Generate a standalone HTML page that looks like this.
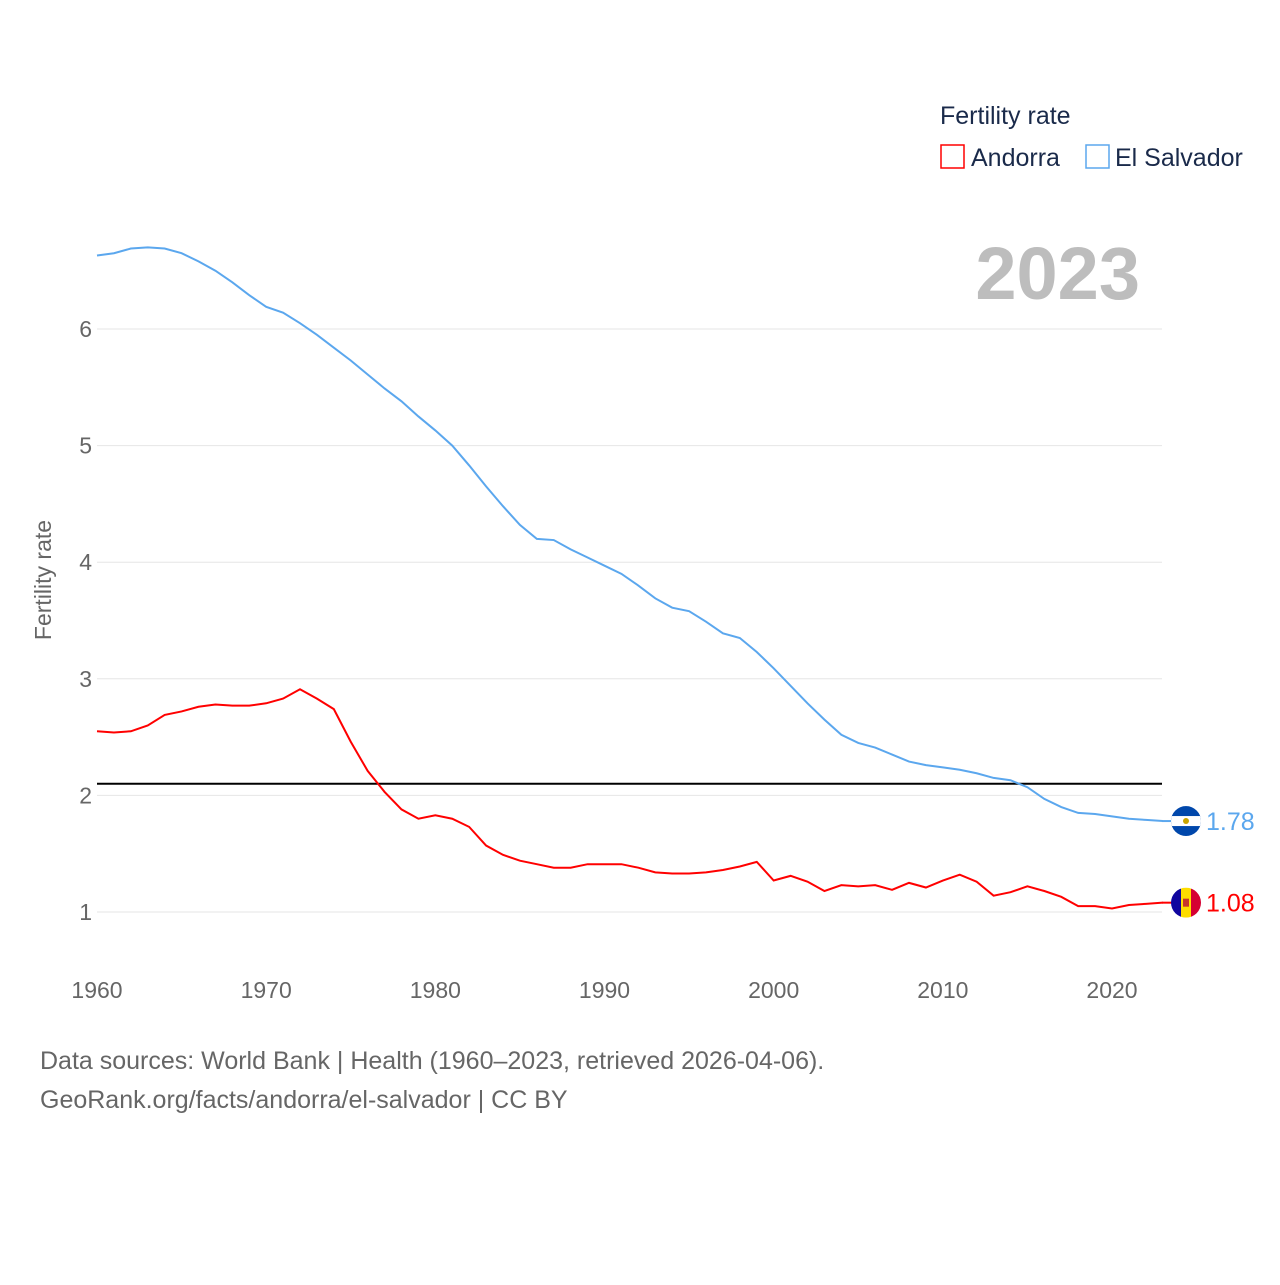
<!DOCTYPE html>
<html><head><meta charset="utf-8"><style>
body{margin:0;background:#fff;font-family:"Liberation Sans",sans-serif;}
svg text{font-family:"Liberation Sans",sans-serif;}
</style></head><body>
<svg id="chart" width="1280" height="1280" xmlns="http://www.w3.org/2000/svg">
<text x="940" y="124" font-size="25" fill="#1a2a4a">Fertility rate</text>
<g><rect x="941" y="145" width="23" height="23" fill="none" stroke="#ff0000" stroke-width="1.5"/><text x="971" y="166" font-size="25" fill="#1a2a4a">Andorra</text></g>
<g><rect x="1086" y="145" width="23" height="23" fill="none" stroke="#5ba7ee" stroke-width="1.5"/><text x="1115" y="166" font-size="25" fill="#1a2a4a">El Salvador</text></g>
<text x="1140" y="299" font-size="74" font-weight="bold" fill="#bdbdbd" text-anchor="end">2023</text>
<text transform="translate(51,580) rotate(-90)" font-size="23" fill="#666" text-anchor="middle">Fertility rate</text>
<g id="grid"></g><g id="xt"></g><g id="lines"></g>
<text x="40" y="1069" font-size="25" fill="#666">Data sources: World Bank | Health (1960–2023, retrieved 2026-04-06).</text>
<text x="40" y="1108" font-size="25" fill="#666">GeoRank.org/facts/andorra/el-salvador | CC BY</text>
</svg>
<script>
const years=[];for(let y=1960;y<=2023;y++)years.push(y);
const yTicks=[1,2,3,4,5,6];
const xTicks=[1960,1970,1980,1990,2000,2010,2020];
const replacementRate=2.1;
const elSalvador=[6.63,6.65,6.69,6.70,6.69,6.65,6.58,6.50,6.40,6.29,6.19,6.14,6.05,5.95,5.84,5.73,5.61,5.49,5.38,5.25,5.13,5.00,4.83,4.65,4.48,4.32,4.20,4.19,4.11,4.04,3.97,3.90,3.80,3.69,3.61,3.58,3.49,3.39,3.35,3.23,3.09,2.94,2.79,2.65,2.52,2.45,2.41,2.35,2.29,2.26,2.24,2.22,2.19,2.15,2.13,2.07,1.97,1.90,1.85,1.84,1.82,1.80,1.79,1.78];
const andorra=[2.55,2.54,2.55,2.60,2.69,2.72,2.76,2.78,2.77,2.77,2.79,2.83,2.91,2.83,2.74,2.46,2.21,2.03,1.88,1.80,1.83,1.80,1.73,1.57,1.49,1.44,1.41,1.38,1.38,1.41,1.41,1.41,1.38,1.34,1.33,1.33,1.34,1.36,1.39,1.43,1.27,1.31,1.26,1.18,1.23,1.22,1.23,1.19,1.25,1.21,1.27,1.32,1.26,1.14,1.17,1.22,1.18,1.13,1.05,1.05,1.03,1.06,1.07,1.08];
const X=y=>97+(y-1960)*(1015/60);
const Y=v=>912-(v-1)*116.6;
const NS='http://www.w3.org/2000/svg';
function mk(t,a,p){const e=document.createElementNS(NS,t);for(const k in a)e.setAttribute(k,a[k]);p.appendChild(e);return e;}
const g=document.getElementById('grid');
yTicks.forEach(v=>{
 const l=mk('line',{x1:97,x2:1162,y1:Y(v),y2:Y(v),stroke:'#e6e6e6','stroke-width':1},g);
 
 
 const t=mk('text',{x:92,y:Y(v)+8,'font-size':23,fill:'#666','text-anchor':'end'},g);t.textContent=v;
 
 
});
const xt=document.getElementById('xt');
xTicks.forEach(v=>{
 const t=mk('text',{x:X(v),y:998,'font-size':23,fill:'#666','text-anchor':'middle'},xt);t.textContent=v;
 
 
});
const L=document.getElementById('lines');
const defs=mk('defs',{},L);
const rl=mk('line',{x1:97,x2:1162,y1:Y(replacementRate),y2:Y(replacementRate),stroke:'#000','stroke-width':2},L);


function series(arr,col,name,flag){
 const p=mk('polyline',{points:arr.map((v,i)=>X(years[i])+','+Y(v)).join(' '),fill:'none',stroke:col,'stroke-width':2},L);
 
 
 const last=arr[arr.length-1];const cy=Y(last);
 mk('line',{x1:1162,x2:1172,y1:cy,y2:cy,stroke:col,'stroke-width':2},L);
 const cp=mk('clipPath',{id:'cp-'+name},defs);
 mk('circle',{cx:1186,cy:cy,r:15},cp);
 const fg=mk('g',{'clip-path':'url(#cp-'+name+')'},L);
 
 
 if(flag==='sv'){
  mk('rect',{x:1171,y:cy-15,width:30,height:30,fill:'#0047ab'},fg);
  mk('rect',{x:1171,y:cy-5,width:30,height:10,fill:'#fff'},fg);
  mk('circle',{cx:1186,cy:cy,r:3,fill:'#c9a400'},fg);
 } else {
  mk('rect',{x:1171,y:cy-15,width:10,height:30,fill:'#10069f'},fg);
  mk('rect',{x:1181,y:cy-15,width:10,height:30,fill:'#fedd00'},fg);
  mk('rect',{x:1191,y:cy-15,width:10,height:30,fill:'#d50032'},fg);
  mk('rect',{x:1183,y:cy-4,width:6,height:8,fill:'#c7352b'},fg);
 }
 const t=mk('text',{x:1206,y:cy+9,'font-size':25,fill:col},L);t.textContent=last.toFixed(2);
 
 
}
series(elSalvador,'#5ba7ee','el-salvador','sv');
series(andorra,'#ff0000','andorra','ad');
</script>
</body></html>
